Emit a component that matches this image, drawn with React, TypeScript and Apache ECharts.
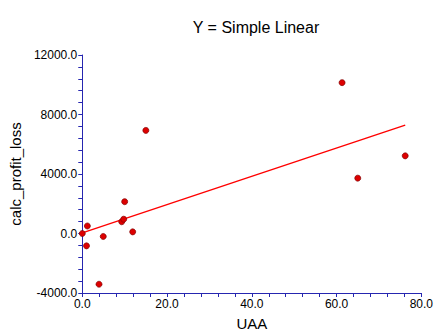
import React, { useEffect, useRef } from "react";
import * as echarts from "echarts";

const uaa = [0.0, 1.2, 1.0, 4.95, 3.95, 9.3, 9.77, 10.0, 11.9, 15.0, 61.3, 65.0, 76.2];
const profit = [0, 505, -830, -200, -3410, 790, 960, 2140, 110, 6930, 10140, 3720, 5220];
const fitX = [0.0, 76.2];
const fitY = [40, 7290];

const axisColor = "#2626b0";
const font = "Liberation Sans, Arial, sans-serif";

export default function App() {
  const ref = useRef<HTMLDivElement>(null);
  useEffect(() => {
    const chart = echarts.init(ref.current!, undefined, { renderer: "svg" });
    chart.setOption({
      animation: false,
      backgroundColor: "#ffffff",
      title: {
        text: "Y = Simple Linear",
        left: 251,
        top: 14,
        textAlign: "center",
        textStyle: { fontFamily: font, fontSize: 16, fontWeight: "normal", color: "#000" },
      },
      grid: { left: 79, right: 13, top: 55, bottom: 37, containLabel: false },
      xAxis: {
        type: "value",
        min: 0,
        max: 80,
        interval: 20,
        name: "UAA",
        nameLocation: "middle",
        nameGap: 23,
        nameTextStyle: { fontFamily: font, fontSize: 15, color: "#000" },
        axisLine: { show: true, onZero: false, lineStyle: { color: axisColor, width: 1 } },
        axisTick: { show: true, length: 4, lineStyle: { color: axisColor } },
        minorTick: { show: true, splitNumber: 5, length: 4, lineStyle: { color: axisColor } },
        splitLine: { show: false },
        axisLabel: {
          fontFamily: font,
          fontSize: 12,
          color: "#000",
          margin: 5,
          formatter: (v: number) => v.toFixed(1),
        },
      },
      yAxis: {
        type: "value",
        min: -4000,
        max: 12000,
        interval: 4000,
        name: "calc_profit_loss",
        nameLocation: "middle",
        nameGap: 53,
        nameTextStyle: { fontFamily: font, fontSize: 15, color: "#000" },
        axisLine: { show: true, onZero: false, lineStyle: { color: axisColor, width: 1 } },
        axisTick: { show: true, length: 4, lineStyle: { color: axisColor } },
        minorTick: { show: true, splitNumber: 5, length: 4, lineStyle: { color: axisColor } },
        splitLine: { show: false },
        axisLabel: {
          fontFamily: font,
          fontSize: 12,
          color: "#000",
          margin: 5,
          formatter: (v: number) => v.toFixed(1),
        },
      },
      series: [
        {
          type: "line",
          data: fitX.map((x, i) => [x, fitY[i]]),
          showSymbol: false,
          lineStyle: { color: "#ff0000", width: 1.4 },
          z: 2,
        },
        {
          type: "scatter",
          data: uaa.map((x, i) => [x, profit[i]]),
          symbolSize: 6,
          itemStyle: { color: "#dd0000", borderColor: "#800000", borderWidth: 0.7, opacity: 1 },
          z: 3,
        },
      ],
    });
    return () => chart.dispose();
  }, []);
  return <div ref={ref} style={{ width: 436, height: 336, position: "absolute", left: 0, top: 0 }} />;
}
